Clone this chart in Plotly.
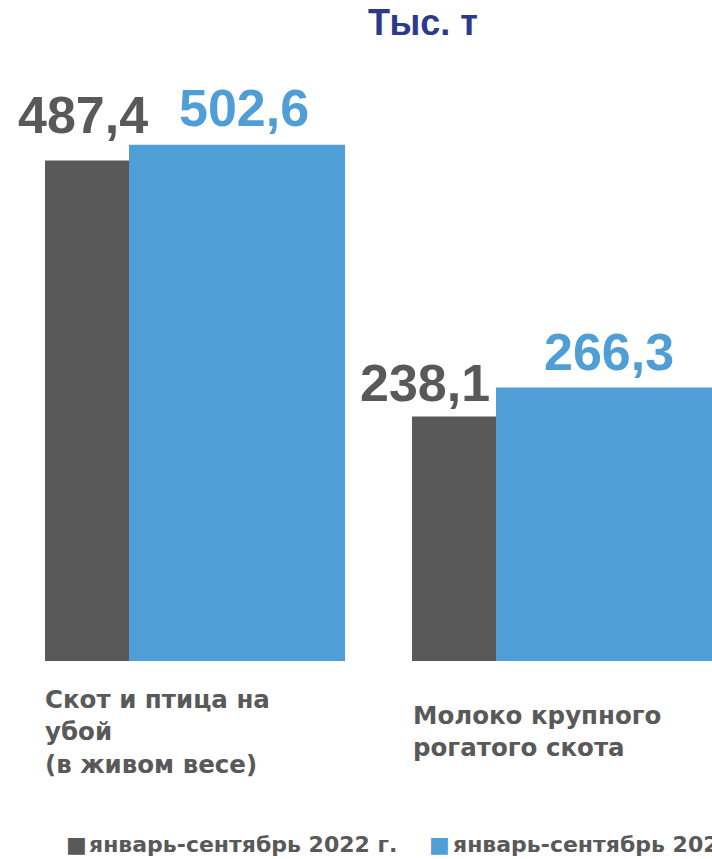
import plotly.graph_objects as go

# ---- data ----
categories = ["Скот и птица на<br>убой<br>(в живом весе)", "Молоко крупного<br>рогатого скота"]
series_names = ["январь-сентябрь 2022 г.", "январь-сентябрь 2023 г."]
values_2022 = [487.4, 238.1]
values_2023 = [502.6, 266.3]
unit_title = "Тыс. т"

# ---- style ----
GRAY = "#595959"
BLUE = "#509ED6"
NAVY = "#2B3A8A"
FONT = "Arial, 'Liberation Sans', sans-serif"
FONT2 = "'DejaVu Sans', Arial, sans-serif"

W, H = 712, 859
w_gray = 0.2289
w_blue = 0.5886
xpos = list(range(len(categories)))
colors = [GRAY, BLUE]

fig = go.Figure()
fig.add_trace(go.Bar(
    x=xpos, y=values_2022, name=series_names[0],
    width=w_gray, offset=0, marker=dict(color=GRAY, line=dict(width=0)),
))
fig.add_trace(go.Bar(
    x=xpos, y=values_2023, name=series_names[1],
    width=w_blue, offset=w_gray, marker=dict(color=BLUE, line=dict(width=0)),
))

def fmt(v):
    return f"{v:.1f}".replace(".", ",")

ann = []
# value labels
gray_dx = [-4, -29]
gray_dy = [45, 33]
blue_dx = [7, 5]
blue_dy = [37, 36]
for i, v in enumerate(values_2022):
    ann.append(dict(x=xpos[i] + w_gray / 2, y=v, text=fmt(v), showarrow=False,
                    xanchor="center", yanchor="middle", xshift=gray_dx[i], yshift=gray_dy[i],
                    font=dict(family=FONT, size=52, color=GRAY, weight="bold")))
for i, v in enumerate(values_2023):
    ann.append(dict(x=xpos[i] + w_gray + w_blue / 2, y=v, text=fmt(v), showarrow=False,
                    xanchor="center", yanchor="middle", xshift=blue_dx[i], yshift=blue_dy[i],
                    font=dict(family=FONT, size=52, color=BLUE, weight="bold")))
# category labels (one annotation per line for tight line spacing)
cat_first_dy = [38, 54]
line_gap = 32.5
cat_dx = [-2, -1]
for i, c in enumerate(categories):
    for j, line in enumerate(c.split("<br>")):
        ann.append(dict(x=xpos[i], y=0, text=line, showarrow=False, align="left",
                        xanchor="left", yanchor="middle",
                        yshift=-(cat_first_dy[i] + j * line_gap), xshift=cat_dx[i],
                        font=dict(family=FONT2, size=24.5, color=GRAY, weight="bold")))
# unit title
ann.append(dict(x=423 / W, y=1 - 23 / H, xref="paper", yref="paper", text=unit_title,
                showarrow=False, xanchor="center", yanchor="middle",
                font=dict(family=FONT, size=36, color=NAVY, weight="bold")))

# legend (keys + labels)
key_x = [76, 440]
text_x = [87, 451]
for i, name in enumerate(series_names):
    ann.append(dict(x=key_x[i] / W, y=0, xref="paper", yref="paper",
                    text="■", showarrow=False, xanchor="center", yanchor="bottom",
                    font=dict(family="DejaVu Sans", size=22, color=colors[i])))
    ann.append(dict(x=text_x[i] / W, y=0, xref="paper", yref="paper",
                    text=name, showarrow=False, xanchor="left", yanchor="bottom",
                    font=dict(family=FONT2, size=22, color=GRAY, weight="bold")))

px_per_unit = 1.027
zero_px = 661
x_left_px = 45
px_per_x = 367

fig.update_layout(
    width=W, height=H,
    margin=dict(l=0, r=0, t=0, b=0),
    paper_bgcolor="white", plot_bgcolor="white",
    barmode="overlay",
    showlegend=False,
    xaxis=dict(range=[-x_left_px / px_per_x, (W - x_left_px) / px_per_x], visible=False,
               fixedrange=True),
    yaxis=dict(range=[-(H - zero_px) / px_per_unit, zero_px / px_per_unit], visible=False,
               fixedrange=True),
    annotations=ann,
)

fig.write_html("out.html")
